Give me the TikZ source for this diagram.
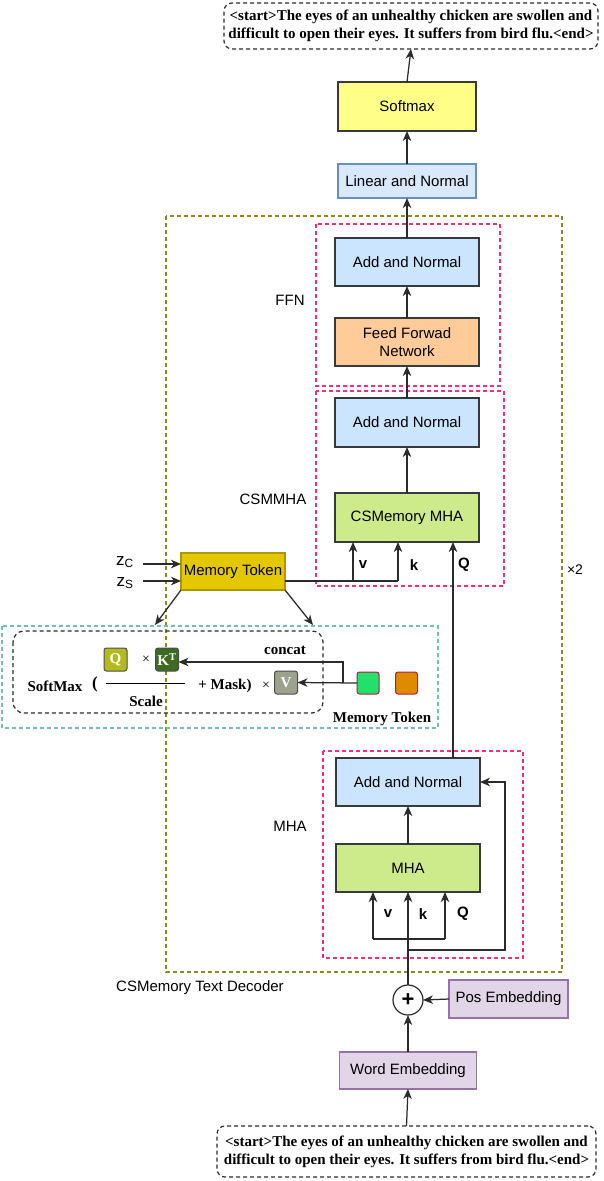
\documentclass[tikz,border=0pt]{standalone}
\usepackage{fontspec}
\setmainfont{Liberation Serif}
\setsansfont{Liberation Sans}
\usetikzlibrary{arrows.meta}
\definecolor{bord}{HTML}{36393D}
\definecolor{softy}{HTML}{FFFF88}
\definecolor{linf}{HTML}{DAE8FC}
\definecolor{lind}{HTML}{6C8EBF}
\definecolor{addf}{HTML}{CCE5FF}
\definecolor{fff}{HTML}{FFCC99}
\definecolor{mhaf}{HTML}{CDEB8B}
\definecolor{mtf}{HTML}{E3C800}
\definecolor{mtd}{HTML}{B09500}
\definecolor{embf}{HTML}{E1D5E7}
\definecolor{embd}{HTML}{9673A6}
\definecolor{pinkd}{HTML}{EC2F7F}
\definecolor{olived}{HTML}{8A8A1E}
\definecolor{cyand}{HTML}{74BDB2}
\definecolor{qf}{HTML}{B3BA1F}
\definecolor{kf}{HTML}{3D6B21}
\definecolor{vf}{HTML}{9BA38C}
\definecolor{gsqf}{HTML}{22E06A}
\definecolor{osqf}{HTML}{E08A00}
\definecolor{sqd}{HTML}{B8184A}
\definecolor{lnc}{HTML}{2B2B2B}
\tikzset{
  blk/.style={draw=bord, line width=1.2pt, inner sep=0pt, outer sep=0pt, align=center,
    font=\sffamily\fontsize{15}{18}\selectfont},
  arr/.style={-{Stealth[length=10pt,width=8.5pt,inset=3pt]}, line width=1.25pt, draw=lnc},
  ln/.style={line width=1.25pt, draw=lnc},
  txtbox/.style={draw=lnc, line width=1.2pt, dash pattern=on 4pt off 3pt, rounded corners=8pt,
    inner sep=0pt, outer sep=0pt, align=center, font=\bfseries\fontsize{15}{18}\selectfont},
  pinkbox/.style={draw=pinkd, line width=1.2pt, dash pattern=on 4pt off 3pt},
  lab/.style={font=\sffamily\fontsize{15}{18}\selectfont, inner sep=0pt},
  zlab/.style={font=\sffamily\fontsize{17}{18}\selectfont, inner sep=0pt},
  blab/.style={font=\sffamily\bfseries\fontsize{15}{18}\selectfont, inner sep=0pt},
  slab/.style={font=\bfseries\fontsize{15}{18}\selectfont, inner sep=0pt},
  sq/.style={rounded corners=2.5pt, draw=black!70, line width=1pt, inner sep=0pt, outer sep=0pt,
    minimum width=23pt, minimum height=23pt, text=white, font=\bfseries\fontsize{15}{18}\selectfont},
}
\begin{document}
\begin{tikzpicture}[x=1pt,y=-1pt]
\useasboundingbox (0,0) rectangle (604,1181);
% outer containers
\draw[draw=olived, line width=1.2pt, dash pattern=on 4pt off 3pt] (166,216) rectangle (562,972);
\draw[pinkbox] (316,224) rectangle (500,386);
\draw[pinkbox] (316,391) rectangle (504,586);
\draw[pinkbox] (323,751) rectangle (523,958);
\draw[draw=cyand, line width=1.2pt, dash pattern=on 4pt off 3pt] (2,626) rectangle (438,728);
\draw[draw=lnc, line width=1.2pt, dash pattern=on 4pt off 3pt, rounded corners=11pt] (13,631) rectangle (323,713);

% text boxes
\node[txtbox, minimum width=374pt, minimum height=46pt] (top) at (411,26)
  {<start>The eyes of an unhealthy chicken are swollen and\\difficult to open their eyes. It suffers from bird flu.<end>};
\node[txtbox, minimum width=379pt, minimum height=51pt] (bot) at (406.5,1151.5)
  {<start>The eyes of an unhealthy chicken are swollen and\\difficult to open their eyes. It suffers from bird flu.<end>};

% blocks
\node[blk, fill=softy, minimum width=138pt, minimum height=49pt] (soft) at (407,106.5) {Softmax};
\node[blk, fill=linf, draw=lind, minimum width=138pt, minimum height=34pt] (lin) at (407,181) {Linear and Normal};
\node[blk, fill=addf, minimum width=144pt, minimum height=48pt] (an1) at (407,262) {Add and Normal};
\node[blk, fill=fff, minimum width=144pt, minimum height=48pt] (ffn) at (407,342) {Feed Forwad\\Network};
\node[blk, fill=addf, minimum width=144pt, minimum height=49pt] (an2) at (407,422.5) {Add and Normal};
\node[blk, fill=mhaf, minimum width=144pt, minimum height=49pt] (csm) at (407,517.5) {CSMemory MHA};
\node[blk, fill=mtf, draw=mtd, minimum width=104pt, minimum height=37pt] (mt) at (233,571.5) {Memory Token};
\node[blk, fill=addf, minimum width=144pt, minimum height=48pt] (an3) at (408,782) {Add and Normal};
\node[blk, fill=mhaf, minimum width=144pt, minimum height=48pt] (mha) at (408,868) {MHA};
\node[draw=lnc, line width=1.2pt, circle, minimum size=30pt, inner sep=0pt, outer sep=0pt,
  font=\sffamily\bfseries\fontsize{22}{22}\selectfont] (plus) at (408,1000) {+};
\node[blk, fill=embf, draw=embd, minimum width=119pt, minimum height=38pt] (pos) at (508.5,999) {Pos Embedding};
\node[blk, fill=embf, draw=embd, minimum width=137pt, minimum height=37pt] (word) at (408,1070.5) {Word Embedding};

% labels
\node[lab] (lffn) at (290,300) {FFN};
\node[lab] (lcsm) at (273,499) {CSMMHA};
\node[lab] (lmha) at (290,826) {MHA};
\node[lab, font=\sffamily\fontsize{14}{16}\selectfont] (ltimes) at (575,570) {×2};
\node[lab, anchor=west] (ldec) at (116,988) {CSMemory Text Decoder};
\node[blab] (lv1) at (363,565) {v};
\node[blab] (lk1) at (414,565) {k};
\node[blab] (lq1) at (464,565) {Q};
\node[blab] (lv2) at (388,914) {v};
\node[blab] (lk2) at (423,914) {k};
\node[blab] (lq2) at (463,914) {Q};
\node[zlab] (lzc) at (125,562) {z\textsubscript{C}};
\node[zlab] (lzs) at (125,583) {z\textsubscript{S}};

% top chain
\draw[arr] (soft.north) -- (top.south);
\draw[arr] (lin.north) -- (soft.south);
\draw[arr] (an1.north) -- (lin.south);
\draw[arr] (ffn.north) -- (an1.south);
\draw[arr] (an2.north) -- (ffn.south);
\draw[arr] (csm.north) -- (an2.south);

% memory token inputs
\coordinate (zc) at (143,564);
\coordinate (zs) at (143,581);
\draw[arr] (zc) -- (zc -| mt.west);
\draw[arr] (zs) -- (zs -| mt.west);
\coordinate (vj) at (353,581);
\coordinate (kj) at (398,581);
\draw[ln] (mt.east |- vj) -- (kj);
\draw[arr] (vj) -- (vj |- csm.south);
\draw[arr] (kj) -- (kj |- csm.south);
\coordinate (qx) at (453,0);
\draw[arr] (an3.north -| qx) -- (csm.south -| qx);

% memory token to formula
\coordinate (fa) at (155,625);
\coordinate (fb) at (313,625);
\draw[arr] (mt.south west) -- (fa);
\draw[arr] (mt.south east) -- (fb);

% formula
\node[sq, fill=qf] (Q) at (115.5,659.5) {Q};
\node[sq, fill=kf] (K) at (167,659.5) {K\textsuperscript{T}};
\node[sq, fill=vf] (V) at (286,682.5) {V};
\node[sq, fill=gsqf, draw=sqd, minimum width=22pt, minimum height=22pt] (gsq) at (368,683) {};
\node[sq, fill=osqf, draw=sqd, minimum width=22pt, minimum height=22pt] (osq) at (406.5,683) {};
\node[slab] (fsm) at (55,686) {SoftMax};
\node[slab, font=\bfseries\fontsize{17}{18}\selectfont] (fpar) at (95,684) {(};
\node[slab] (fscale) at (146,701) {Scale};
\node[font=\fontsize{14}{14}\selectfont, inner sep=0pt] (fx1) at (146,660) {×};
\node[slab] (fmask) at (225,686) {+ Mask)};
\node[font=\fontsize{14}{14}\selectfont, inner sep=0pt] (fx2) at (266,686) {×};
\node[slab] (fconcat) at (285,650) {concat};
\node[slab] (fmt) at (382,719) {Memory Token};
\coordinate (fl1) at (106,683);
\coordinate (fl2) at (185,683);
\draw[line width=1pt] (fl1) -- (fl2);
\coordinate (cj) at (343,683);
\draw[arr] (gsq.west) -- (V.east);
\draw[arr] (cj) -- (343,662) -- (K.east |- 0,662);

% bottom MHA
\draw[arr] (mha.north) -- (an3.south);
\coordinate (vb) at (373,939);
\coordinate (qb) at (445,939);
\draw[arr] (plus.north) -- (mha.south);
\draw[ln] (vb) -- (qb);
\draw[arr] (vb) -- (vb |- mha.south);
\draw[arr] (qb) -- (qb |- mha.south);
\coordinate (rj) at (408,950);
\coordinate (rr) at (505,950);
\draw[arr] (rj) -- (rr) |- (an3.east);

% embeddings
\draw[arr] (pos.west) -- (plus.east);
\draw[arr] (word.north) -- (plus.south);
\draw[arr] (bot.north) -- (word.south);
\end{tikzpicture}
\end{document}
